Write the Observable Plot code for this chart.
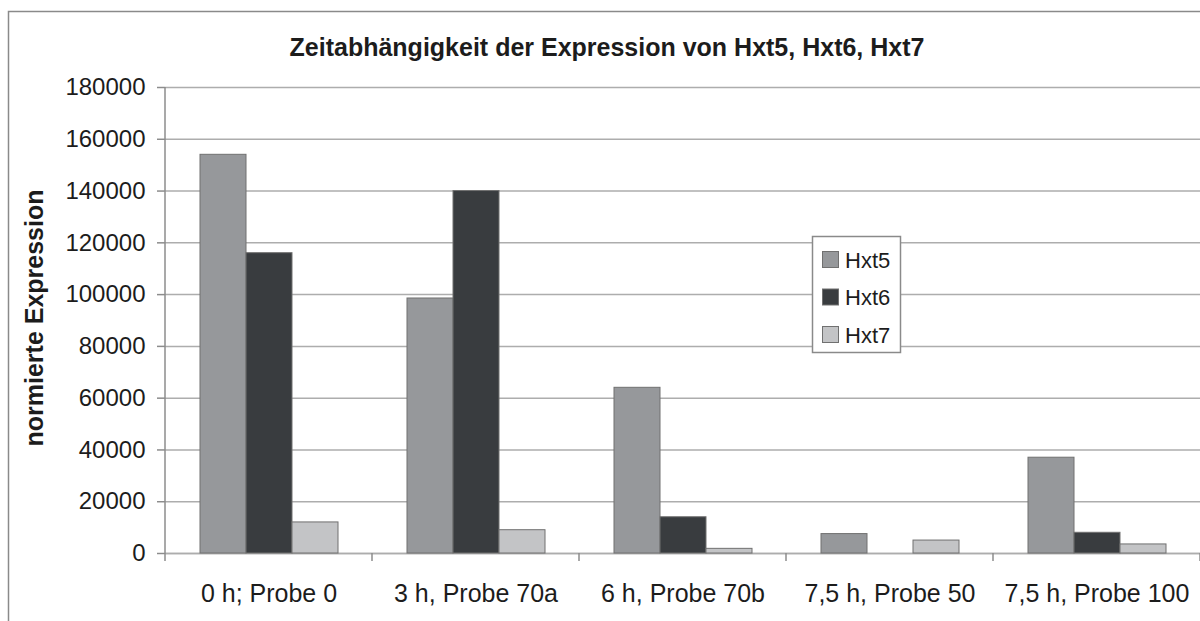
<!DOCTYPE html>
<html>
<head>
<meta charset="utf-8">
<script src="https://cdn.jsdelivr.net/npm/d3@7"></script>
<script src="https://cdn.jsdelivr.net/npm/@observablehq/plot@0.6"></script>
<style>
  html, body { margin: 0; padding: 0; background: #fff; }
</style>
</head>
<body>
<div id="chart"></div>
<script>
const titleText = "Zeitabhängigkeit der Expression von Hxt5, Hxt6, Hxt7";
const yLabel = "normierte Expression";
const categories = ["0 h; Probe 0", "3 h, Probe 70a", "6 h, Probe 70b", "7,5 h, Probe 50", "7,5 h, Probe 100"];
const series = ["Hxt5", "Hxt6", "Hxt7"];
const hxt5 = [154000, 98500, 64000, 7500, 37000];
const hxt6 = [116000, 140000, 14000, 0, 8000];
const hxt7 = [12000, 9000, 1800, 5000, 3500];
const yTicks = [0, 20000, 40000, 60000, 80000, 100000, 120000, 140000, 160000, 180000];
const colors = ["#96989b", "#393c3f", "#c3c4c6"];

const seriesValues = [hxt5, hxt6, hxt7];
const data = categories.flatMap((c, i) =>
  series.map((s, j) => ({category: c, series: s, value: seriesValues[j][i]}))
);

const FONT = "'Liberation Sans', Arial, Helvetica, sans-serif";
const TEXT = "#1c1c1c";

const chart = Plot.plot({
  width: 1200,
  height: 621,
  marginLeft: 165,
  marginRight: 0,
  marginTop: 87,
  marginBottom: 68,
  style: {fontFamily: FONT, background: "#fff", color: TEXT, overflow: "visible"},
  fx: {domain: categories, padding: 0, label: null, axis: null},
  x: {domain: series, paddingInner: 0, paddingOuter: 0.716, axis: null},
  y: {domain: [0, 180000], axis: null},
  color: {domain: series, range: colors},
  marks: [
    Plot.gridY(yTicks, {stroke: "#adadad", strokeOpacity: 1, strokeWidth: 1.5}),
    Plot.axisY(yTicks, {anchor: "left", tickSize: 8, tickPadding: 12, fontSize: 24, tickFormat: d3.format("d"), label: null, stroke: "#8c8c8c", strokeWidth: 1.5, fill: TEXT}),
    Plot.axisFx({anchor: "bottom", tickSize: 0, tickPadding: 31, fontSize: 25, label: null, fill: TEXT}),
    Plot.ruleY([0], {stroke: "#adadad", strokeWidth: 1.5}),
    Plot.barY(data, {
      filter: d => d.value > 0,
      fx: "category", x: "series", y: "value",
      fill: "series", stroke: "#707070", strokeWidth: 1
    })
  ]
});

const svg = d3.select(chart);
const yS = chart.scale("y");
const fxS = chart.scale("fx");
const y0 = yS.apply(0);
const yTop = yS.apply(180000);
const left = fxS.apply(categories[0]);

// left spine
svg.append("line")
  .attr("x1", left).attr("x2", left)
  .attr("y1", yTop).attr("y2", y0 + 8)
  .attr("stroke", "#8c8c8c").attr("stroke-width", 1.5);

// category boundary ticks
const bounds = categories.map(c => fxS.apply(c)).concat([fxS.apply(categories[categories.length - 1]) + fxS.bandwidth]);
svg.append("g").selectAll("line").data(bounds.slice(1)).join("line")
  .attr("x1", d => d).attr("x2", d => d)
  .attr("y1", y0).attr("y2", y0 + 8)
  .attr("stroke", "#8c8c8c").attr("stroke-width", 1.5);

// outer frame
svg.append("rect")
  .attr("x", 8.5).attr("y", 11.5).attr("width", 1220).attr("height", 640)
  .attr("fill", "none").attr("stroke", "#8a8a8a").attr("stroke-width", 1.5);

// title
svg.append("text")
  .attr("x", 607).attr("y", 56)
  .attr("text-anchor", "middle")
  .attr("font-family", FONT).attr("font-weight", "bold").attr("font-size", 25)
  .attr("fill", TEXT)
  .text(titleText);

// y axis title
svg.append("text")
  .attr("transform", "translate(43,318) rotate(-90)")
  .attr("text-anchor", "middle")
  .attr("font-family", FONT).attr("font-weight", "bold").attr("font-size", 25)
  .attr("fill", TEXT)
  .text(yLabel);

// legend
const colorS = chart.scale("color");
const lg = svg.append("g");
lg.append("rect")
  .attr("x", 812.5).attr("y", 236.5).attr("width", 88).attr("height", 116)
  .attr("fill", "#fff").attr("stroke", "#8a8a8a").attr("stroke-width", 1.5);
series.forEach((s, i) => {
  const top = 251 + i * 37.5;
  lg.append("rect")
    .attr("x", 822.5).attr("y", top + 0.5).attr("width", 16).attr("height", 16)
    .attr("fill", colorS.apply(s)).attr("stroke", "#707070").attr("stroke-width", 1);
  lg.append("text")
    .attr("x", 845).attr("y", top + 16.5)
    .attr("text-anchor", "start")
    .attr("font-family", FONT).attr("font-size", 22)
    .attr("fill", TEXT)
    .text(s);
});

document.getElementById("chart").appendChild(chart);
</script>
</body>
</html>
